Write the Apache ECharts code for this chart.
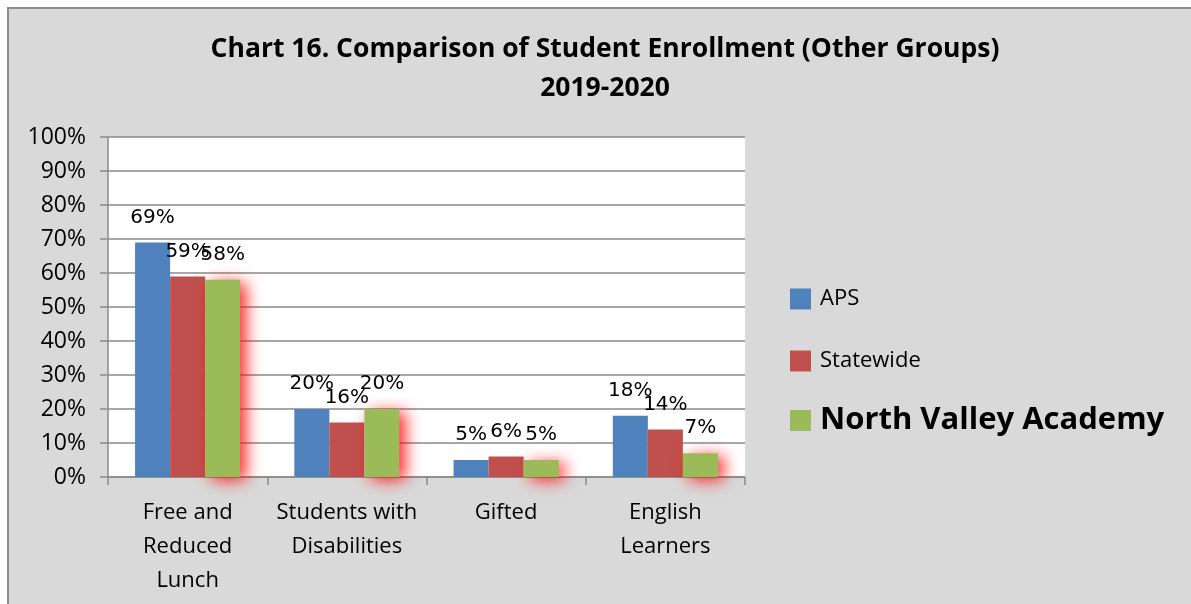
<!DOCTYPE html>
<html>
<head>
<meta charset="utf-8">
<script src="https://cdn.jsdelivr.net/npm/echarts@6/dist/echarts.min.js"></script>
<style>
  html, body { margin: 0; padding: 0; background: #fff; }
  #chart { width: 1191px; height: 604px; }
</style>
</head>
<body>
<div id="chart"></div>
<script>
var categories = ['Free and\nReduced\nLunch', 'Students with\nDisabilities', 'Gifted', 'English\nLearners'];
var aps = [69, 20, 5, 18];
var statewide = [59, 16, 6, 14];
var nva = [58, 20, 5, 7];

var myChart = echarts.init(document.getElementById('chart'));

var barLabel = {
    show: true,
    position: 'top',
    distance: 15,
    formatter: '{c}%',
    fontFamily: 'DejaVu Sans',
    fontSize: 20,
    color: '#000'
};

var option = {
    animation: false,
    backgroundColor: '#fff',
    graphic: [{
        type: 'rect',
        z: -10,
        shape: { x: 8, y: 8, width: 1200, height: 620 },
        style: { fill: '#d9d9d9', stroke: '#8c8c8c', lineWidth: 2 }
    }],
    title: {
        text: 'Chart 16. Comparison of Student Enrollment (Other Groups)\n2019-2020',
        left: 600,
        textAlign: 'center',
        top: 25,
        textStyle: {
            fontFamily: 'Open Sans',
            fontWeight: 'bold',
            fontSize: 26.5,
            lineHeight: 39,
            color: '#000'
        }
    },
    legend: [
        {
            orient: 'vertical',
            left: 785,
            top: 283,
            itemWidth: 21,
            itemHeight: 21,
            itemGap: 40,
            icon: 'rect',
            data: ['APS', 'Statewide'],
            textStyle: {
                fontFamily: 'Open Sans',
                fontSize: 22,
                lineHeight: 21,
                color: '#000',
                padding: [0, 0, 0, 4]
            }
        },
        {
            orient: 'vertical',
            left: 785,
            top: 400,
            itemWidth: 21,
            itemHeight: 21,
            icon: 'rect',
            data: ['North Valley Academy'],
            textStyle: {
                fontFamily: 'Open Sans',
                fontSize: 31,
                fontWeight: 'bold',
                lineHeight: 21,
                color: '#000',
                padding: [0, 0, 0, 4]
            }
        }
    ],
    grid: {
        left: 108,
        top: 137,
        width: 637,
        height: 340,
        show: true,
        backgroundColor: '#fff',
        borderWidth: 0
    },
    xAxis: {
        type: 'category',
        data: categories,
        axisLine: { lineStyle: { color: '#8a8a8a', width: 1.5 } },
        axisTick: { show: true, length: 8, lineStyle: { color: '#8a8a8a', width: 1.5 } },
        axisLabel: {
            interval: 0,
            hideOverlap: false,
            margin: 19,
            fontFamily: 'Open Sans',
            fontSize: 22,
            lineHeight: 34,
            color: '#000'
        }
    },
    yAxis: {
        type: 'value',
        min: 0,
        max: 100,
        interval: 10,
        axisLine: { show: true, lineStyle: { color: '#8a8a8a', width: 1.5 } },
        axisTick: { show: true, length: 8, lineStyle: { color: '#8a8a8a', width: 1.5 } },
        splitLine: { lineStyle: { color: '#8a8a8a', width: 1.5 } },
        axisLabel: {
            formatter: '{value}%',
            margin: 22,
            fontFamily: 'Open Sans',
            fontSize: 23,
            color: '#000'
        }
    },
    series: [
        {
            name: 'APS',
            type: 'bar',
            barGap: '0%',
            barCategoryGap: '34%',
            itemStyle: { color: '#4f81bd' },
            label: barLabel,
            data: aps
        },
        {
            name: 'Statewide',
            type: 'bar',
            itemStyle: { color: '#c0504d' },
            label: barLabel,
            data: statewide
        },
        {
            name: 'North Valley Academy',
            type: 'bar',
            itemStyle: {
                color: '#9bbb59',
                shadowColor: 'rgba(255,0,0,0.85)',
                shadowBlur: 16,
                shadowOffsetX: 6,
                shadowOffsetY: 3
            },
            label: barLabel,
            data: nva
        }
    ]
};
myChart.setOption(option);
</script>
</body>
</html>
